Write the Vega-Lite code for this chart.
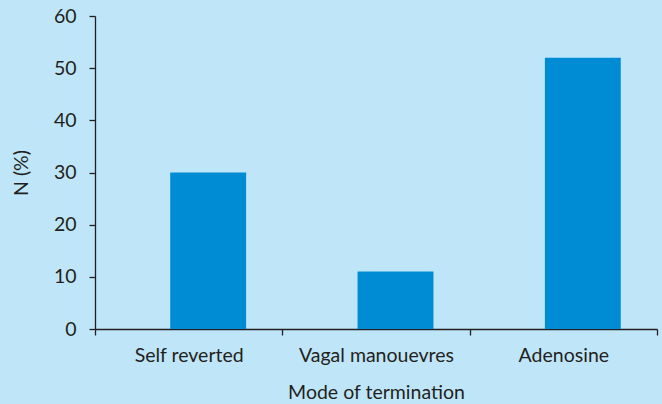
{
  "$schema": "https://vega.github.io/schema/vega-lite/v6.json",
  "autosize": "none",
  "padding": {"left": 95, "top": 16, "right": 5, "bottom": 75},
  "width": 562,
  "height": 313,
  "background": "#bfe6f8",
  "data": {"values": [
    {"mode": "Self reverted", "pct": 30},
    {"mode": "Vagal manouevres", "pct": 11},
    {"mode": "Adenosine", "pct": 52}
  ]},
  "mark": {"type": "bar", "color": "#008bd5", "width": {"band": 0.405}, "xOffset": 19.5},
  "encoding": {
    "x": {"field": "mode", "type": "nominal", "sort": null,
      "scale": {"paddingInner": 0, "paddingOuter": 0},
      "axis": {"title": "Mode of termination", "labelAngle": 0, "tickBand": "extent",
        "tickSize": 6, "labelPadding": 11, "titlePadding": 19}},
    "y": {"field": "pct", "type": "quantitative",
      "scale": {"domain": [0, 60], "nice": false},
      "axis": {"title": "N (%)", "values": [0, 10, 20, 30, 40, 50, 60], "grid": false,
        "tickSize": 6, "labelPadding": 13, "titlePadding": 22}}
  },
  "config": {
    "view": {"stroke": null},
    "font": "Lato",
    "axis": {"domainColor": "#231f20", "tickColor": "#231f20", "labelColor": "#231f20", "titleColor": "#231f20",
      "labelFont": "Lato", "titleFont": "Lato", "labelFontSize": 19.5, "titleFontSize": 19.5, "titleFontWeight": "normal",
      "domainWidth": 1.3, "tickWidth": 1.3}
  }
}
